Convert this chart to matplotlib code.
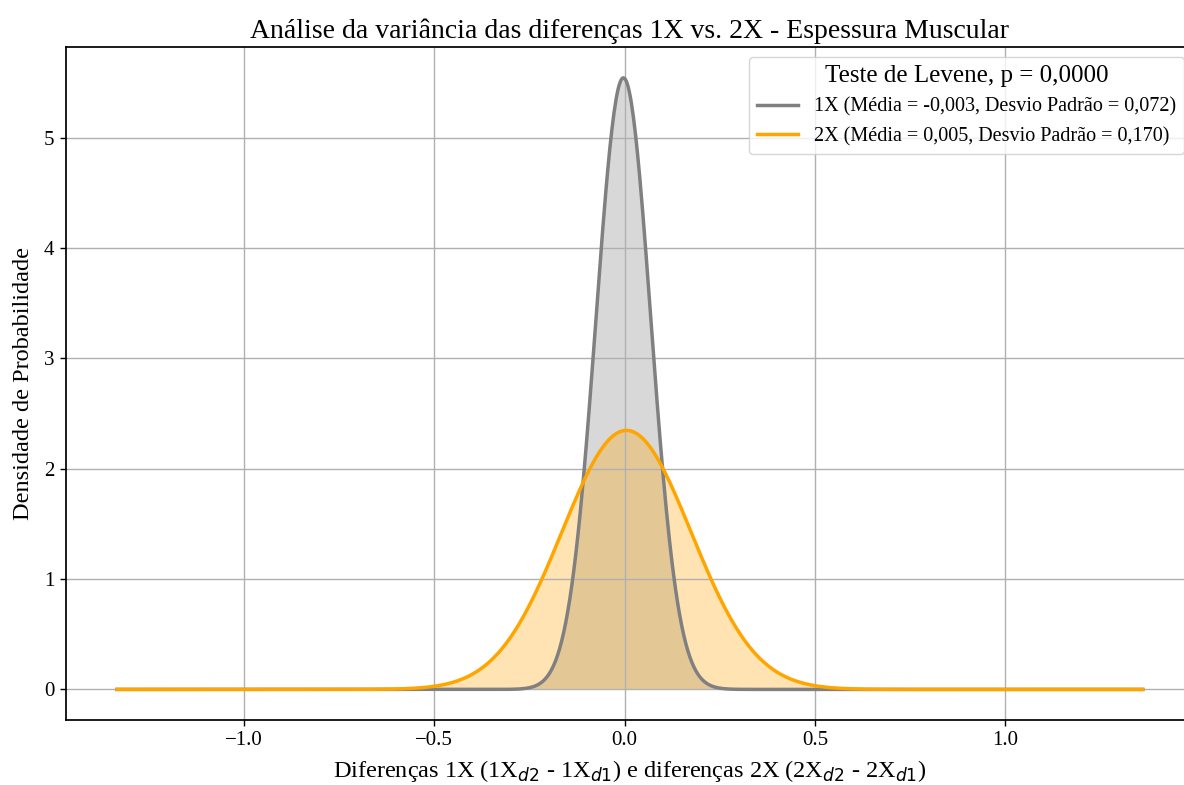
import numpy as np
import matplotlib
matplotlib.use("Agg")
import matplotlib.pyplot as plt

plt.rcParams['font.family'] = ['Liberation Serif', 'DejaVu Serif']
plt.rcParams['grid.linewidth'] = 1.0
plt.rcParams['axes.linewidth'] = 1.25
plt.rcParams['xtick.major.width'] = 1.0
plt.rcParams['ytick.major.width'] = 1.0
plt.rcParams['xtick.major.size'] = 4.5
plt.rcParams['ytick.major.size'] = 4.5

# summary statistics of the two groups of differences
grupos = ['1X', '2X']
medias = [-0.003, 0.005]
desvios = [0.072, 0.170]
cores = ['gray', 'orange']
p_levene = 0.0000
x_min, x_max = -1.333, 1.361


def normal_pdf(x, mu, sd):
    return np.exp(-0.5 * ((x - mu) / sd) ** 2) / (sd * np.sqrt(2 * np.pi))


x = np.linspace(x_min, x_max, 1000)

fig = plt.figure(figsize=(11.84, 7.85), dpi=100)
ax = fig.add_axes([0.0555, 0.0828, 0.953, 0.857])

for g, mu, sd, c in zip(grupos, medias, desvios, cores):
    y = normal_pdf(x, mu, sd)
    lbl = f'{g} (Média = {mu:.3f}, Desvio Padrão = {sd:.3f})'.replace('.', ',')
    ax.plot(x, y, color=c, lw=2.5, label=lbl)
    ax.fill_between(x, y, color=c, alpha=0.3, lw=0)

ax.set_title('Análise da variância das diferenças 1X vs. 2X - Espessura Muscular',
             fontsize=20, pad=7)
ax.set_xlabel('Diferenças 1X (1X$_{d2}$ - 1X$_{d1}$) e diferenças 2X (2X$_{d2}$ - 2X$_{d1}$)',
              fontsize=17.5, labelpad=6)
ax.set_ylabel('Densidade de Probabilidade', fontsize=17.5, labelpad=7)
ax.tick_params(labelsize=15)
ax.grid(True)
ax.legend(title=f'Teste de Levene, p = {p_levene:.4f}'.replace('.', ','),
          loc='upper right', fontsize=14.5, title_fontsize=18)

fig.savefig('out.png', dpi=100)
